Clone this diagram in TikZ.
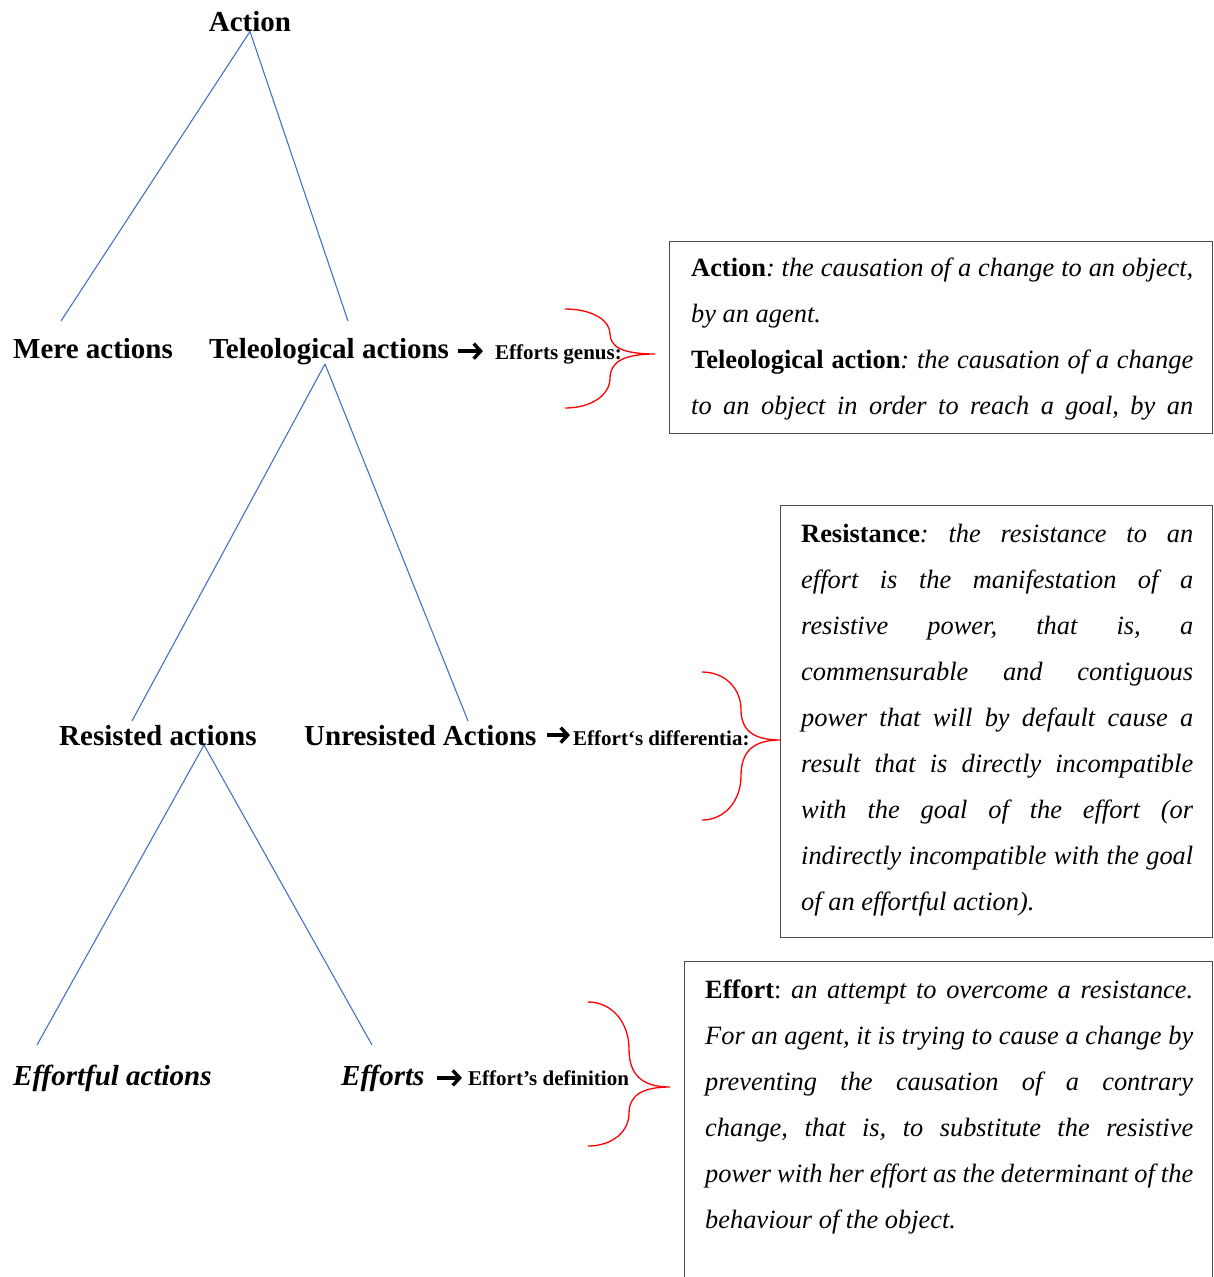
\documentclass[tikz,border=0pt]{standalone}
\usepackage{fontspec}
\usetikzlibrary{arrows.meta}
\setmainfont{Liberation Serif}
\newcommand\treefont{\fontsize{29}{34}\selectfont\bfseries}
\newcommand\notefont{\fontsize{21}{25}\selectfont\bfseries}
\newcommand\deffont{\fontsize{26.4}{46}\selectfont\frenchspacing}
\definecolor{branchblue}{HTML}{4472C4}

\begin{document}
\begin{tikzpicture}[x=1pt,y=-1pt,
    term/.style={inner sep=0pt,font=\treefont,anchor=base west},
    note/.style={inner sep=0pt,font=\notefont,anchor=base west},
    branch/.style={draw=branchblue,line width=1.1pt},
    pointer/.style={line width=3.4pt,-{Straight Barb[length=7pt,width=15pt]}},
    brace/.style={draw=red,line width=1.3pt},
    defbox/.style={draw=black!70,line width=1.4pt,anchor=north west,inner sep=0pt},
    deftext/.style={inner sep=0pt,anchor=base west,align=justify,font=\deffont}]
    \useasboundingbox (0,0) rectangle (1213,1277);

    % the tree
    \node[term,anchor=base] (action) at (250,31) {Action};
    \node[term] (mere) at (13,358) {Mere actions};
    \node[term] (tele) at (209,358) {Teleological actions};
    \node[note] (genus) at (495,359) {Efforts genus:};
    \node[term] (resisted) at (59,745) {Resisted actions};
    \node[term] (unresisted) at (304,745) {Unresisted Actions};
    \node[note] (differentia) at (573,745) {Effort‘s differentia:};
    \node[term] (effortful) at (13,1085) {\itshape Effortful actions};
    \node[term] (efforts) at (341,1085) {\itshape Efforts};
    \node[note] (definition) at (468,1085) {Effort’s definition};

    \coordinate (mereTop) at (61,321) {};
    \coordinate (teleTop) at (348,321) {};
    \coordinate (teleFork) at (325,364) {};
    \coordinate (resTop) at (132,721) {};
    \coordinate (unresTop) at (468,721) {};
    \coordinate (resFork) at (204,745) {};
    \coordinate (fulTop) at (37,1045) {};
    \coordinate (effTop) at (372,1045) {};
    \foreach \a/\b in {action.south/mereTop,action.south/teleTop,
                       teleFork/resTop,teleFork/unresTop,
                       resFork/fulTop,resFork/effTop} {
        \draw[branch] (\a) -- (\b);
    }

    % the arrows to the labels
    \draw[pointer,shorten <=9pt,shorten >=12pt] (tele.east) -- (tele.east -| genus.west);
    \draw[pointer,shorten <=10pt,shorten >=3pt] (unresisted.east) -- (unresisted.east -| differentia.west);
    \draw[pointer,shorten <=12pt,shorten >=6pt] (efforts.east) -- (efforts.east -| definition.west);

    % the definitions
    \node[defbox,minimum width=543pt,minimum height=192pt] (genusbox) at (669,241) {};
    \node[deftext,text width=502pt] (genustext) at (691,276) {%
        \textbf{Action}\textit{: the causation of a change to an object,}\linebreak
        \textit{by an agent.}\par
        \textbf{Teleological action}\textit{: the causation of a change}\linebreak
        \textit{to an object in order to reach a goal, by an}\parfillskip=0pt\par};

    \node[defbox,minimum width=432pt,minimum height=432pt] (diffbox) at (780,505) {};
    \node[deftext,text width=392pt] (difftext) at (801,542) {%
        \textbf{Resistance}\textit{: the resistance to an}\linebreak
        \textit{effort is the manifestation of a}\linebreak
        \textit{resistive power, that is, a}\linebreak
        \textit{commensurable and contiguous}\linebreak
        \textit{power that will by default cause a}\linebreak
        \textit{result that is directly incompatible}\linebreak
        \textit{with the goal of the effort (or}\linebreak
        \textit{indirectly incompatible with the goal}\linebreak
        \textit{of an effortful action).}};

    \node[defbox,minimum width=528pt,minimum height=340pt] (defbox) at (684,961) {};
    \node[deftext,text width=488pt] (deftext) at (705,998) {%
        \textbf{Effort}: \textit{an attempt to overcome a resistance.}\linebreak
        \textit{For an agent, it is trying to cause a change by}\linebreak
        \textit{preventing the causation of a contrary}\linebreak
        \textit{change, that is, to substitute the resistive}\linebreak
        \textit{power with her effort as the determinant of the}\linebreak
        \textit{behaviour of the object.}};

    % the braces
    \foreach \xa/\xm/\xt/\yt/\ym/\yb in {565/610/655/309/354/408,
                                          702/741/780/672/740/820,
                                          588/629/670/1002/1087/1146} {
        \draw[brace] (\xa,\yt)
            .. controls ({\xa+0.6*(\xm-\xa)},\yt) and (\xm,{\yt+0.25*(\ym-\yt)}) .. (\xm,{\yt+0.55*(\ym-\yt)})
            .. controls (\xm,{\yt+0.85*(\ym-\yt)}) and ({\xm+0.3*(\xt-\xm)},\ym) .. (\xt,\ym)
            .. controls ({\xm+0.3*(\xt-\xm)},\ym) and (\xm,{\ym+0.15*(\yb-\ym)}) .. (\xm,{\ym+0.45*(\yb-\ym)})
            .. controls (\xm,{\ym+0.75*(\yb-\ym)}) and ({\xa+0.6*(\xm-\xa)},\yb) .. (\xa,\yb);
    }
\end{tikzpicture}
\end{document}
